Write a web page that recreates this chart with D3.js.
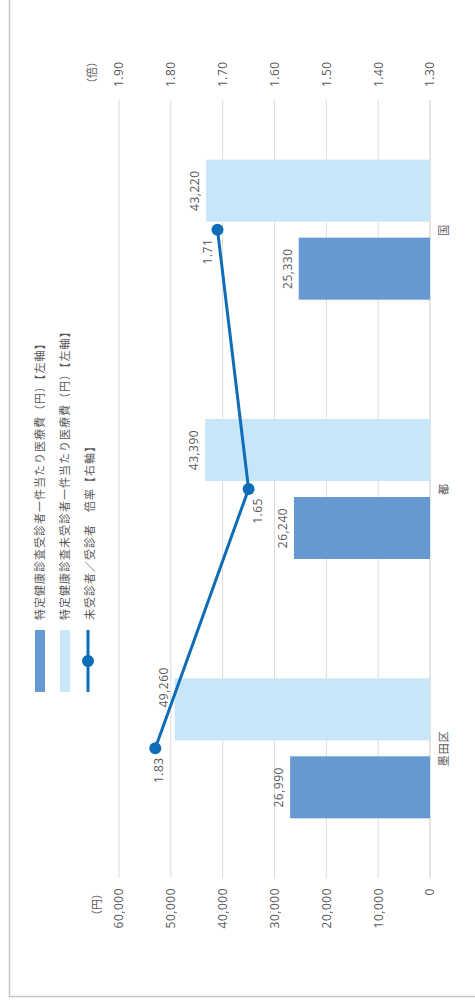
<!DOCTYPE html>
<html><head><meta charset="utf-8">
<script src="https://cdn.jsdelivr.net/npm/d3@7"></script>
<style>
html,body{margin:0;padding:0;background:#fff;}
svg{display:block;}
</style></head>
<body>
<svg id="chart" width="475" height="1008"></svg>
<script>
// ---- data ----
const categories = ["墨田区", "都", "国"];
const examinedCost = [26990, 26240, 25330];     // 受診者一件当たり医療費
const unexaminedCost = [49260, 43390, 43220];   // 未受診者一件当たり医療費
const ratio = [1.83, 1.65, 1.71];               // 未受診者／受診者 倍率
const leftTicks = [0, 10000, 20000, 30000, 40000, 50000, 60000];
const rightTicks = [1.30, 1.40, 1.50, 1.60, 1.70, 1.80, 1.90];
const seriesNames = [
  "特定健康診査受診者一件当たり医療費（円）【左軸】",
  "特定健康診査未受診者一件当たり医療費（円）【左軸】",
  "未受診者／受診者　倍率【右軸】"
];
const leftUnit = "（円）";
const rightUnit = "（倍）";

// ---- layout ----
const colDark = "#6699d1", colLight = "#c7e7f8", colLine = "#0f6cb6";
const txt = "#595959";
const numFont = "'Open Sans','Noto Sans CJK JP',sans-serif";
const cjkFont = "'Noto Sans CJK JP','Open Sans',sans-serif";

const svg = d3.select("#chart");
svg.append("rect").attr("width", 475).attr("height", 1008).attr("fill", "#fff");
// chart is drawn in its own frame and rotated -90°
const g = svg.append("g").attr("transform", "translate(0,1008) rotate(-90)");

g.append("rect").attr("x", 11.5).attr("y", 9.5).attr("width", 1200).attr("height", 700)
  .attr("fill", "none").attr("stroke", "#c4c4c4").attr("stroke-width", 1.5);

const plotL = 130, plotR = 908, plotT = 119, plotB = 430;
const x0 = d3.scaleBand().domain(categories).range([plotL, plotR]);
const x1 = d3.scaleBand().domain(["exam", "unexam"]).range([0, x0.bandwidth()])
  .paddingInner(0.205).paddingOuter(0.765);
const y = d3.scaleLinear().domain([0, 60000]).range([plotB, plotT]);
const y2 = d3.scaleLinear().domain([1.3, 1.9]).range([plotB, plotT]);

// gridlines
g.append("g").selectAll("line").data(leftTicks).join("line")
  .attr("x1", plotL).attr("x2", plotR)
  .attr("y1", d => y(d)).attr("y2", d => y(d))
  .attr("stroke", d => d === 0 ? "#c8c8c8" : "#dcdcdc").attr("stroke-width", 1);

// left axis
const la = g.append("g").attr("transform", `translate(${plotL},0)`)
  .call(d3.axisLeft(y).tickValues(leftTicks).tickSize(0).tickPadding(10).tickFormat(d3.format(",")));
la.select(".domain").remove();
la.selectAll("text").attr("fill", txt).attr("font-size", 12).attr("font-family", numFont).attr("letter-spacing", 0.5);

// right axis
const ra = g.append("g").attr("transform", `translate(${plotR},0)`)
  .call(d3.axisRight(y2).tickValues(rightTicks).tickSize(0).tickPadding(13).tickFormat(d3.format(".2f")));
ra.select(".domain").remove();
ra.selectAll("text").attr("fill", txt).attr("font-size", 12).attr("font-family", numFont).attr("letter-spacing", 0.5);

// category axis
const ba = g.append("g").attr("transform", `translate(0,${plotB})`)
  .call(d3.axisBottom(x0).tickSize(0).tickPadding(10));
ba.select(".domain").remove();
ba.selectAll("text").attr("fill", txt).attr("font-size", 11).attr("font-family", cjkFont).attr("letter-spacing", 1);

// units
g.append("text").attr("x", 120).attr("y", 97).attr("dy", "0.35em").attr("text-anchor", "end")
  .attr("fill", txt).attr("font-size", 11).attr("font-family", cjkFont).text(leftUnit);
g.append("text").attr("x", 919).attr("y", 92).attr("dy", "0.35em").attr("text-anchor", "start")
  .attr("fill", txt).attr("font-size", 11).attr("font-family", cjkFont).text(rightUnit);

// bars
const rows = categories.map((c, i) => ({c, exam: examinedCost[i], unexam: unexaminedCost[i], r: ratio[i]}));
const barSeries = [
  {key: "exam", color: colDark, shift: [0, 0, 0]},
  {key: "unexam", color: colLight, shift: [22, 0, 0]}
];
barSeries.forEach(s => {
  g.append("g").selectAll("rect").data(rows).join("rect")
    .attr("x", d => x0(d.c) + x1(s.key)).attr("width", x1.bandwidth())
    .attr("y", d => y(d[s.key])).attr("height", d => plotB - y(d[s.key]))
    .attr("fill", s.color);
  g.append("g").selectAll("text").data(rows).join("text")
    .attr("x", (d, i) => x0(d.c) + x1(s.key) + x1.bandwidth() / 2 + s.shift[i])
    .attr("y", d => y(d[s.key]) - 7)
    .attr("text-anchor", "middle").attr("fill", txt).attr("font-size", 12)
    .attr("font-family", numFont).attr("letter-spacing", 0.5)
    .text(d => d3.format(",")(d[s.key]));
});

// line
const cx = d => x0(d.c) + x0.bandwidth() / 2;
g.append("path").datum(rows)
  .attr("d", d3.line().x(cx).y(d => y2(d.r)))
  .attr("fill", "none").attr("stroke", colLine).attr("stroke-width", 3);
g.append("g").selectAll("circle").data(rows).join("circle")
  .attr("cx", cx).attr("cy", d => y2(d.r)).attr("r", 6).attr("fill", colLine);
const lineLabelShift = [4, 9, -10];
g.append("g").selectAll("text").data(rows).join("text")
  .attr("x", d => cx(d) - 9).attr("y", (d, i) => y2(d.r) + lineLabelShift[i]).attr("dy", "0.35em")
  .attr("text-anchor", "end").attr("fill", txt).attr("font-size", 12)
  .attr("font-family", numFont).attr("letter-spacing", 0.5)
  .text(d => d3.format(".2f")(d.r));

// legend
const lg = g.append("g");
const legY = [40, 65, 88];
lg.append("rect").attr("x", 316).attr("y", legY[0] - 5).attr("width", 62).attr("height", 10).attr("fill", colDark);
lg.append("rect").attr("x", 316).attr("y", legY[1] - 5).attr("width", 62).attr("height", 10).attr("fill", colLight);
lg.append("line").attr("x1", 316).attr("x2", 378).attr("y1", legY[2]).attr("y2", legY[2])
  .attr("stroke", colLine).attr("stroke-width", 3);
lg.append("circle").attr("cx", 347).attr("cy", legY[2]).attr("r", 6).attr("fill", colLine);
lg.selectAll("text").data(seriesNames).join("text")
  .attr("x", 388).attr("y", (d, i) => legY[i] + (i === 2 ? 2 : 0)).attr("dy", "0.35em")
  .attr("fill", txt).attr("font-size", 11).attr("letter-spacing", 1)
  .attr("font-family", cjkFont).text(d => d);
</script>
</body></html>
